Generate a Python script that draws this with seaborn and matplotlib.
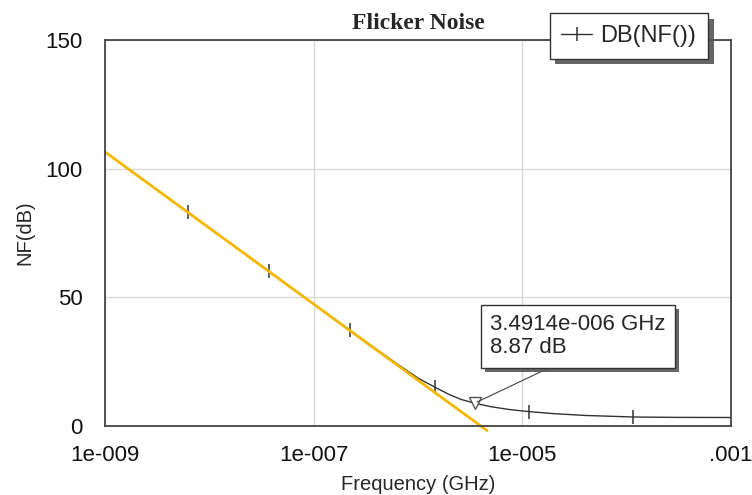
import numpy as np
import pandas as pd
import matplotlib
matplotlib.use('Agg')
import matplotlib.pyplot as plt
import matplotlib.patheffects as pe
import seaborn as sns

# values (frequency in GHz, NF in dB)
freq = [1e-9, 6.27e-9, 3.73e-8, 2.21e-7, 4.4e-7, 6.7e-7, 1.0e-6, 1.45e-6,
        2.0e-6, 2.6e-6, 3.49e-6, 5.0e-6, 7.5e-6, 1.15e-5, 2.0e-5, 4.0e-5,
        1.16e-4, 3.0e-4, 1.0e-3]
nf_db = [106.5, 83.0, 60.1, 37.3, 28.6, 23.4, 18.6, 15.1,
         12.2, 10.3, 8.87, 7.5, 6.4, 5.6, 4.8, 4.1,
         3.5, 3.35, 3.3]
marker_idx = [1, 2, 3, 7, 13, 16]

# flicker asymptote (orange line)
asym_freq = [1e-9, 4.6e-6]
asym_db = [106.5, -1.8]

mark_freq = 3.4914e-6
mark_db = 8.87

sns.set_style('white')
plt.rcParams['font.family'] = ['Liberation Sans', 'DejaVu Sans']

df = pd.DataFrame({'freq': freq, 'nf': nf_db})
df_asym = pd.DataFrame({'freq': asym_freq, 'nf': asym_db})

fig = plt.figure(figsize=(7.52, 4.95), dpi=100)
ax = fig.add_axes([105 / 752, 1 - 426 / 495, (731 - 105) / 752, (426 - 40) / 495])

sns.lineplot(data=df, x='freq', y='nf', ax=ax, color='#333333', lw=1.0,
             marker='|', markersize=10, markeredgewidth=1.1,
             markeredgecolor='#333333', markevery=marker_idx,
             sort=False, label='DB(NF())')
sns.lineplot(data=df_asym, x='freq', y='nf', ax=ax, color='#f5b800', lw=2.0,
             sort=False, clip_on=False)
ax.plot([mark_freq], [mark_db], marker='v', ms=8, mfc='white', mec='#555555',
        mew=1.0, ls='none')

ax.set_xscale('log')
ax.set_xlim(1e-9, 1e-3)
ax.set_ylim(0, 150)
ax.set_xticks([1e-9, 1e-7, 1e-5, 1e-3])
ax.set_xticklabels(['1e-009', '1e-007', '1e-005', '.001'])
ax.xaxis.set_minor_locator(matplotlib.ticker.NullLocator())
ax.set_yticks([0, 50, 100, 150])
ax.tick_params(length=0, labelsize=16, colors='#111111')
ax.tick_params(axis='x', pad=14)
ax.tick_params(axis='y', pad=16)
ax.grid(True, color='#d9d9d9', lw=1.0)
for s in ax.spines.values():
    s.set_color('#444444')
    s.set_linewidth(1.3)

ax.set_xlabel('Frequency (GHz)', fontsize=14.5, labelpad=6)
ax.set_ylabel('NF(dB)', fontsize=14.5, labelpad=8)
ax.set_title('Flicker Noise', fontsize=17, fontweight='bold',
             family=['Liberation Serif', 'DejaVu Serif'], pad=8)

leg = ax.legend(loc='upper right', bbox_to_anchor=(708 / 752, 1 - 13 / 495),
                bbox_transform=fig.transFigure, borderaxespad=0, fontsize=17,
                frameon=True, fancybox=False, handlelength=1.3,
                handletextpad=0.35, borderpad=0.5)
frame = leg.get_frame()
frame.set_edgecolor('#333333')
frame.set_linewidth(1.0)
frame.set_facecolor('white')
frame.set_alpha(1)
frame.set_path_effects([pe.withSimplePatchShadow(offset=(4, -4), shadow_rgbFace='#555555', alpha=0.9)])
leg.set_zorder(10)

ann = ax.annotate('3.4914e-006 GHz\n8.87 dB', xy=(mark_freq, mark_db),
                  xytext=(490, 495 - 314), textcoords='figure pixels',
                  ha='left', va='top', fontsize=16, linespacing=1.15,
                  bbox=dict(boxstyle='square,pad=0.42', fc='white', ec='#333333', lw=1.0),
                  arrowprops=dict(arrowstyle='-', color='#444444', lw=0.8,
                                  relpos=(0.45, 0), shrinkA=0, shrinkB=2))
ann.get_bbox_patch().set_path_effects([pe.withSimplePatchShadow(offset=(3, -3), shadow_rgbFace='#555555', alpha=0.9)])

fig.savefig('out.png', dpi=100)
